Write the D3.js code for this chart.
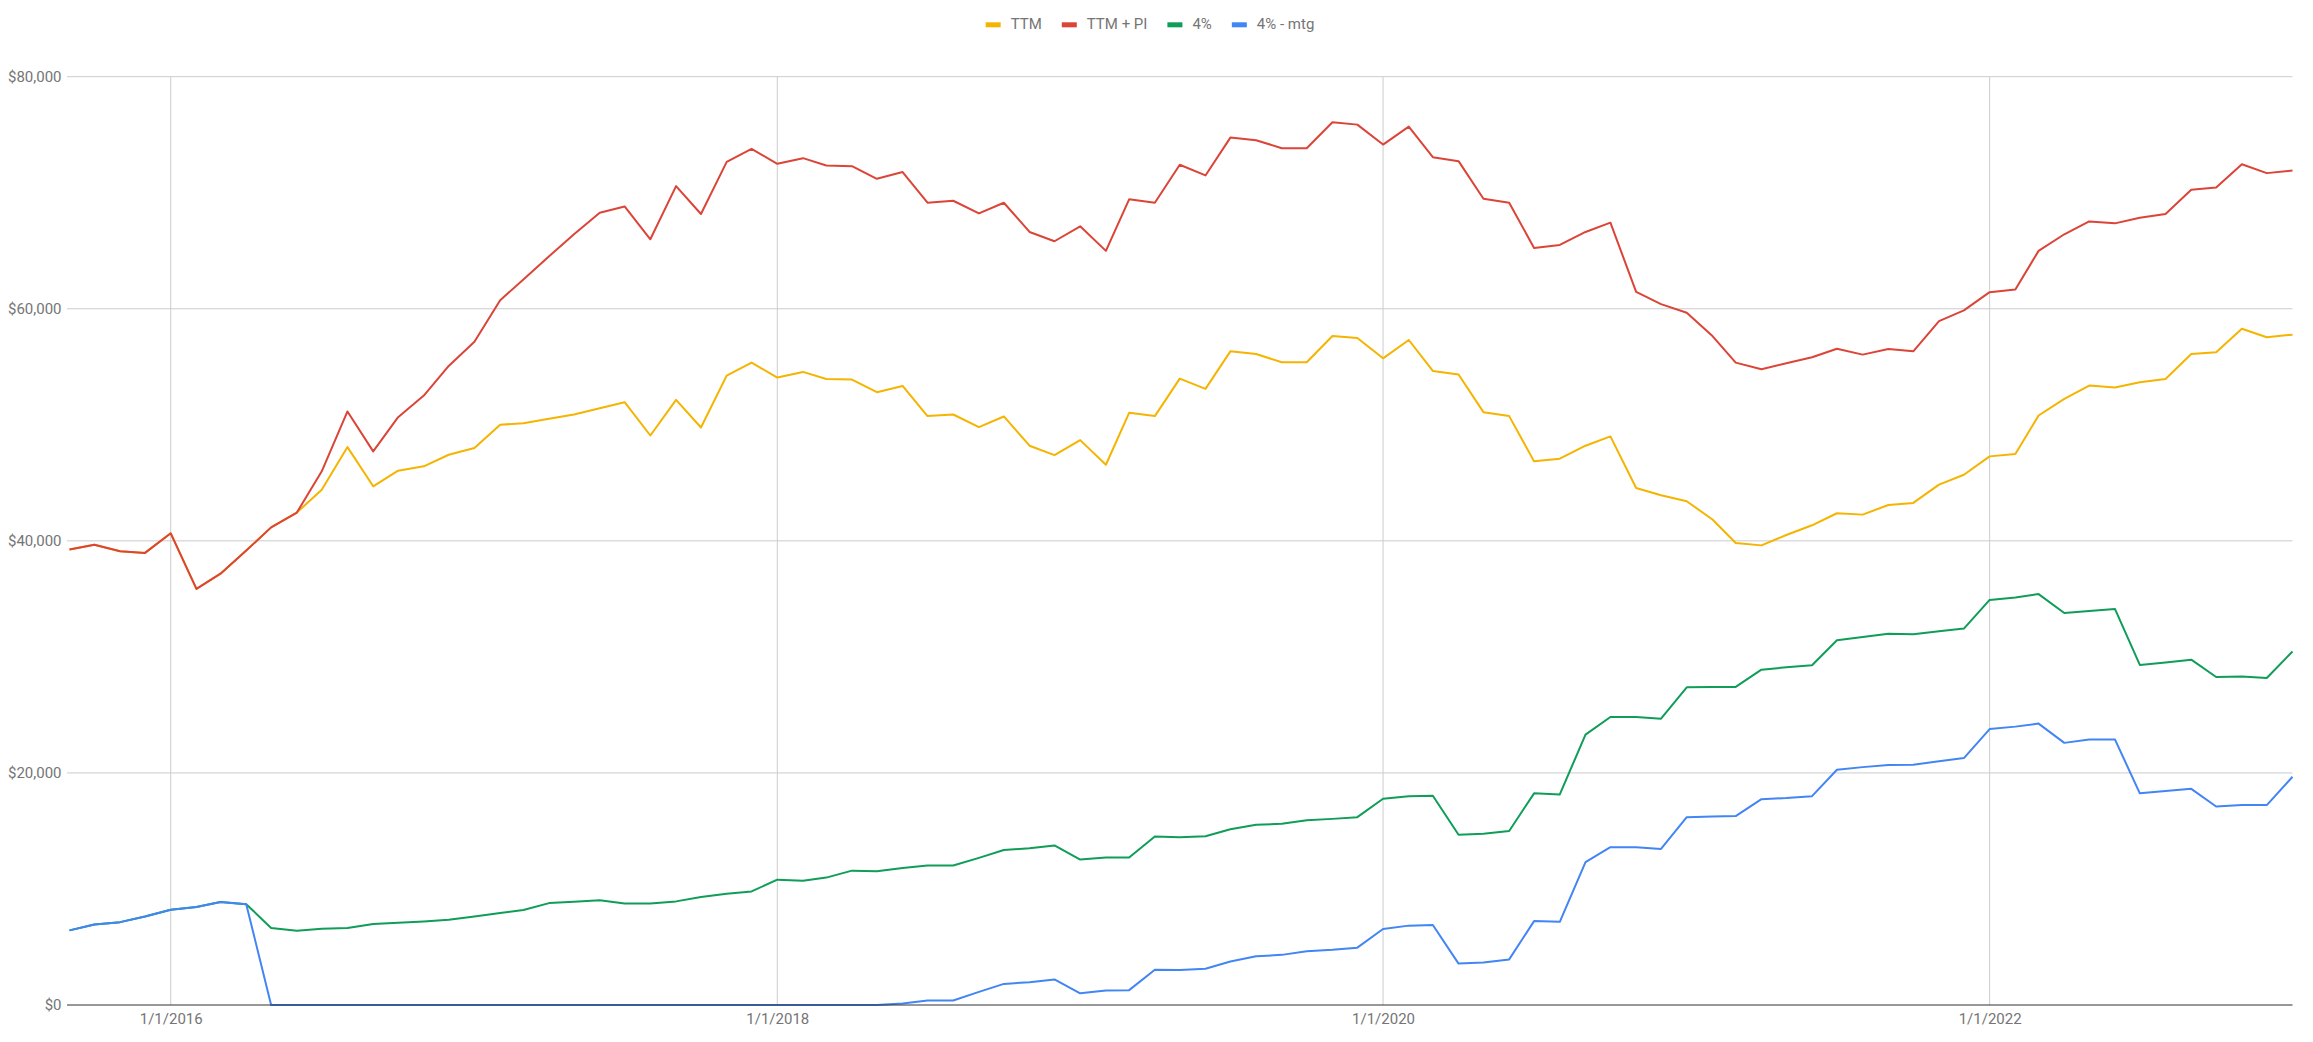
<!DOCTYPE html>
<html>
<head>
<meta charset="utf-8">
<script src="https://cdn.jsdelivr.net/npm/d3@7"></script>
<style>
  html, body { margin: 0; padding: 0; background: #ffffff; }
  svg { display: block; font-family: Roboto, "Noto Sans", Arial, sans-serif; }
</style>
</head>
<body>
<svg id="chart" width="2313" height="1042"></svg>
<script>
// ---------- DATA ----------
const months = [
  "2015-09","2015-10","2015-11","2015-12",
  "2016-01","2016-02","2016-03","2016-04","2016-05","2016-06","2016-07","2016-08","2016-09","2016-10","2016-11","2016-12",
  "2017-01","2017-02","2017-03","2017-04","2017-05","2017-06","2017-07","2017-08","2017-09","2017-10","2017-11","2017-12",
  "2018-01","2018-02","2018-03","2018-04","2018-05","2018-06","2018-07","2018-08","2018-09","2018-10","2018-11","2018-12",
  "2019-01","2019-02","2019-03","2019-04","2019-05","2019-06","2019-07","2019-08","2019-09","2019-10","2019-11","2019-12",
  "2020-01","2020-02","2020-03","2020-04","2020-05","2020-06","2020-07","2020-08","2020-09","2020-10","2020-11","2020-12",
  "2021-01","2021-02","2021-03","2021-04","2021-05","2021-06","2021-07","2021-08","2021-09","2021-10","2021-11","2021-12",
  "2022-01","2022-02","2022-03","2022-04","2022-05","2022-06","2022-07","2022-08","2022-09","2022-10","2022-11","2022-12",
  "2023-01"
];

const ttm = [
  39250, 39670, 39100, 38960, 40650, 35860, 37170, 39160, 41160, 42440,
  44410, 48080, 44700, 46050, 46420, 47420, 48000, 50000, 50140, 50520,
  50890, 51430, 51950, 49080, 52150, 49770, 54240, 55360, 54070, 54560,
  53950, 53900, 52810, 53350, 50750, 50890, 49800, 50720, 48200, 47390,
  48680, 46560, 51030, 50750, 53980, 53100, 56330, 56100, 55390, 55390,
  57650, 57480, 55730, 57310, 54640, 54330, 51090, 50750, 46850, 47080,
  48200, 49000, 44560, 43930, 43410, 41840, 39820, 39610, 40500, 41340,
  42380, 42260, 43090, 43270, 44840, 45700, 47280, 47480, 50800, 52240,
  53380, 53210, 53670, 53950, 56100, 56250, 58280, 57540, 57770
];

const ttmPI = [
  39250, 39670, 39100, 38960, 40650, 35860, 37170, 39160, 41160, 42440,
  45990, 51150, 47710, 50660, 52520, 55070, 57160, 60740, 62520, 64530,
  66420, 68280, 68820, 65990, 70570, 68170, 72660, 73780, 72490, 72980,
  72350, 72290, 71200, 71780, 69140, 69310, 68220, 69140, 66620, 65820,
  67110, 64990, 69430, 69140, 72410, 71490, 74750, 74530, 73840, 73840,
  76070, 75870, 74150, 75700, 73060, 72720, 69480, 69140, 65240, 65500,
  66620, 67420, 61460, 60400, 59660, 57650, 55360, 54790, 55300, 55820,
  56560, 56050, 56530, 56330, 58940, 59860, 61430, 61660, 64990, 66420,
  67530, 67360, 67850, 68170, 70260, 70460, 72460, 71690, 71920
];

const pct4 = [
  6430, 6930, 7140, 7620, 8210, 8450, 8870, 8690, 6640, 6400,
  6580, 6640, 6990, 7080, 7200, 7350, 7620, 7920, 8180, 8780,
  8900, 9020, 8750, 8750, 8930, 9310, 9580, 9790, 10800, 10710,
  10980, 11580, 11520, 11810, 12020, 12020, 12680, 13360, 13510, 13750,
  12530, 12710, 12710, 14520, 14460, 14550, 15150, 15530, 15620, 15920,
  16040, 16190, 17770, 18000, 18030, 14670, 14760, 15000, 18240, 18150,
  23300, 24820, 24820, 24670, 27380, 27410, 27410, 28900, 29100, 29280,
  31430, 31720, 31990, 31960, 32200, 32440, 34910, 35120, 35410, 33780,
  33960, 34130, 29310, 29520, 29760, 28270, 28300, 28180, 30470
];

const pct4mtg = [
  6430, 6930, 7140, 7620, 8210, 8450, 8870, 8690, 0, 0,
  0, 0, 0, 0, 0, 0, 0, 0, 0, 0,
  0, 0, 0, 0, 0, 0, 0, 0, 0, 0,
  0, 0, 0, 120, 390, 390, 1130, 1820, 1960, 2200,
  1010, 1250, 1280, 3040, 3010, 3120, 3750, 4200, 4320, 4640,
  4760, 4940, 6550, 6840, 6900, 3570, 3660, 3930, 7230, 7170,
  12320, 13600, 13600, 13450, 16190, 16250, 16280, 17740, 17830, 18000,
  20270, 20500, 20680, 20710, 21010, 21280, 23780, 23990, 24250, 22590,
  22890, 22890, 18240, 18450, 18630, 17110, 17230, 17230, 19670
];

const seriesNames = ["TTM", "TTM + PI", "4%", "4% - mtg"];
const seriesColors = ["#f4b400", "#db4437", "#0f9d58", "#4285f4"];
const yTicks = [0, 20000, 40000, 60000, 80000];
const xTicks = ["2016-01", "2018-01", "2020-01", "2022-01"];

// ---------- CHART ----------
(function () {
  const parse = d3.timeParse("%Y-%m");
  const dates = months.map(parse);
  const allSeries = [ttm, ttmPI, pct4, pct4mtg];

  const svg = d3.select("#chart");
  const pLeft = 69, pRight = 2292.5, pTop = 76.7, pBottom = 1005;

  const x = d3.scaleTime()
    .domain([dates[0], dates[dates.length - 1]])
    .range([pLeft + 0.5, pRight]);
  const y = d3.scaleLinear().domain([0, 80000]).range([pBottom, pTop]);

  const textColor = "#757575";
  const fontSize = 15;

  // horizontal gridlines
  svg.append("g").selectAll("line")
    .data(yTicks.filter(d => d !== 0))
    .join("line")
    .attr("x1", pLeft - 2).attr("x2", pRight)
    .attr("y1", d => y(d)).attr("y2", d => y(d))
    .attr("stroke", "#cccccc").attr("stroke-width", 1);

  // vertical gridlines
  svg.append("g").selectAll("line")
    .data(xTicks.map(parse))
    .join("line")
    .attr("x1", d => x(d)).attr("x2", d => x(d))
    .attr("y1", pTop).attr("y2", pBottom)
    .attr("stroke", "#cccccc").attr("stroke-width", 1);

  // lines
  const line = d3.line()
    .x((d, i) => x(dates[i]))
    .y(d => y(d));

  svg.append("g").selectAll("path")
    .data(allSeries)
    .join("path")
    .attr("d", d => line(d))
    .attr("fill", "none")
    .attr("stroke", (d, i) => seriesColors[i])
    .attr("stroke-width", 2)
    .attr("stroke-linejoin", "round");

  // baseline
  svg.append("line")
    .attr("x1", pLeft - 2).attr("x2", pRight)
    .attr("y1", y(0)).attr("y2", y(0))
    .attr("stroke", "#333333").attr("stroke-width", 1.2);

  // y axis
  const yAxis = svg.append("g")
    .attr("transform", `translate(${pLeft - 2},0)`)
    .call(d3.axisLeft(y).tickValues(yTicks).tickFormat(d3.format("$,.0f")).tickSize(0).tickPadding(5.5));
  yAxis.select(".domain").remove();
  yAxis.selectAll("text")
    .attr("fill", textColor)
    .style("font-size", fontSize + "px")
    .style("font-family", "Roboto, sans-serif");

  // x axis
  const xAxis = svg.append("g")
    .attr("transform", `translate(0,${pBottom})`)
    .call(d3.axisBottom(x).tickValues(xTicks.map(parse)).tickFormat(d3.timeFormat("%-m/%-d/%Y")).tickSize(0).tickPadding(8.4));
  xAxis.select(".domain").remove();
  xAxis.selectAll("text")
    .attr("fill", textColor)
    .style("font-size", fontSize + "px")
    .style("font-family", "Roboto, sans-serif");

  // legend
  const legend = svg.append("g");
  const items = legend.selectAll("g").data(seriesNames).join("g");
  items.append("rect")
    .attr("width", 15).attr("height", 5)
    .attr("y", 22.3)
    .attr("fill", (d, i) => seriesColors[i]);
  items.append("text")
    .attr("y", 29.3)
    .attr("fill", textColor)
    .style("font-size", fontSize + "px")
    .style("font-family", "Roboto, sans-serif")
    .text(d => d);

  const widths = [];
  items.select("text").each(function () { widths.push(this.getComputedTextLength()); });
  const swatch = 15, gap1 = 10, gap2 = 20;
  const total = widths.reduce((a, b) => a + b, 0) + seriesNames.length * (swatch + gap1) + (seriesNames.length - 1) * gap2;
  let cx = 1150 - total / 2;
  items.each(function (d, i) {
    const g = d3.select(this);
    g.select("rect").attr("x", cx);
    g.select("text").attr("x", cx + swatch + gap1);
    cx += swatch + gap1 + widths[i] + gap2;
  });
})();
</script>
</body>
</html>
